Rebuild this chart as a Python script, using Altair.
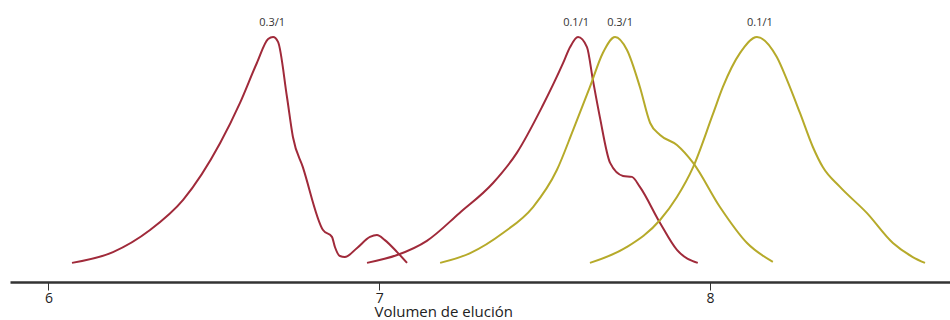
import altair as alt
import pandas as pd

# Elution profiles: volume (x) vs normalised signal (y)
red_a_x = [6.071, 6.195, 6.307, 6.407, 6.519, 6.579, 6.630, 6.664, 6.679, 6.694,
           6.721, 6.739, 6.769, 6.830, 6.857, 6.866, 6.881, 6.896, 6.933, 6.972, 6.993,
           7.017, 7.054, 7.084]
red_a_y = [0.078, 0.122, 0.212, 0.335, 0.567, 0.731, 0.894, 0.992, 1.000, 0.980,
           0.755, 0.592, 0.469, 0.212, 0.184, 0.143, 0.106, 0.102, 0.139, 0.184, 0.192,
           0.171, 0.122, 0.078]

red_b_x = [6.963, 7.054, 7.144, 7.243, 7.344, 7.416, 7.492, 7.556, 7.577, 7.601, 7.628,
           7.646, 7.667, 7.698, 7.737, 7.764, 7.788, 7.849, 7.900, 7.963]
red_b_y = [0.078, 0.110, 0.168, 0.282, 0.404, 0.527, 0.714, 0.894, 0.959, 1.000, 0.959,
           0.824, 0.673, 0.486, 0.433, 0.429, 0.388, 0.241, 0.131, 0.078]

yel_a_x = [7.184, 7.275, 7.374, 7.465, 7.537, 7.586, 7.637, 7.676, 7.713, 7.749, 7.788,
           7.819, 7.849, 7.900, 7.949, 8.030, 8.112, 8.190]
yel_a_y = [0.078, 0.118, 0.200, 0.306, 0.457, 0.620, 0.796, 0.935, 1.000, 0.947, 0.796,
           0.649, 0.600, 0.559, 0.486, 0.306, 0.159, 0.082]

yel_b_x = [7.637, 7.749, 7.849, 7.900, 7.949, 8.009, 8.039, 8.091, 8.142, 8.202, 8.233,
           8.272, 8.311, 8.341, 8.393, 8.474, 8.553, 8.613, 8.650]
yel_b_y = [0.078, 0.143, 0.253, 0.347, 0.469, 0.686, 0.796, 0.935, 1.000, 0.918, 0.824,
           0.690, 0.551, 0.469, 0.388, 0.282, 0.159, 0.102, 0.078]

# Peak annotations
label_text = ["0.3/1", "0.1/1", "0.3/1", "0.1/1"]
label_x = [6.676, 7.595, 7.728, 8.151]
label_y = [1.045, 1.045, 1.045, 1.045]

RED = "#a02a3a"
YELLOW = "#b6aa2a"

series = [
    ("a", red_a_x, red_a_y, RED),
    ("b", red_b_x, red_b_y, RED),
    ("c", yel_a_x, yel_a_y, YELLOW),
    ("d", yel_b_x, yel_b_y, YELLOW),
]

rows = []
for sid, xs, ys, col in series:
    for i, (xv, yv) in enumerate(zip(xs, ys)):
        rows.append({"serie": sid, "orden": i, "vol": xv, "senal": yv, "color": col})
df = pd.DataFrame(rows)

labels = pd.DataFrame({"txt": label_text, "vol": label_x, "senal": label_y})

x_scale = alt.Scale(domain=[5.8836, 8.7256], nice=False, zero=False)
y_scale = alt.Scale(domain=[0, 1.151], nice=False, zero=True)

lines = alt.Chart(df).mark_line(strokeWidth=2, interpolate="monotone").encode(
    x=alt.X(
        "vol:Q",
        scale=x_scale,
        axis=alt.Axis(
            values=[6, 7, 8],
            format="d",
            title="Volumen de elución",
            grid=False,
            domainColor="#333333",
            domainWidth=2.5,
            tickColor="#333333",
            tickWidth=1,
            tickSize=8,
            labelFont="Open Sans",
            labelFontSize=14,
            labelColor="#222222",
            labelPadding=1,
            titleFont="Open Sans",
            titleFontSize=15,
            titleFontWeight="normal",
            titleColor="#222222",
            titleAlign="left",
            titleAnchor="start",
            titleX=364,
            titleY=34,
            titleBaseline="alphabetic",
        ),
    ),
    y=alt.Y("senal:Q", scale=y_scale, axis=None),
    detail="serie:N",
    order="orden:Q",
    color=alt.Color("color:N", scale=None, legend=None),
)

texts = alt.Chart(labels).mark_text(
    font="Open Sans", fontSize=11, color="#333333", baseline="alphabetic", align="center"
).encode(
    x=alt.X("vol:Q", scale=x_scale),
    y=alt.Y("senal:Q", scale=y_scale),
    text="txt:N",
)

chart = (
    alt.layer(lines, texts)
    .properties(
        width=940,
        height=282,
        autosize=alt.AutoSizeParams(type="none"),
        padding={"left": 10, "top": 0, "right": 0, "bottom": 38},
        background="white",
    )
    .configure_view(stroke=None)
)

chart.save("out.html", embed_options={"renderer": "svg", "actions": False})
